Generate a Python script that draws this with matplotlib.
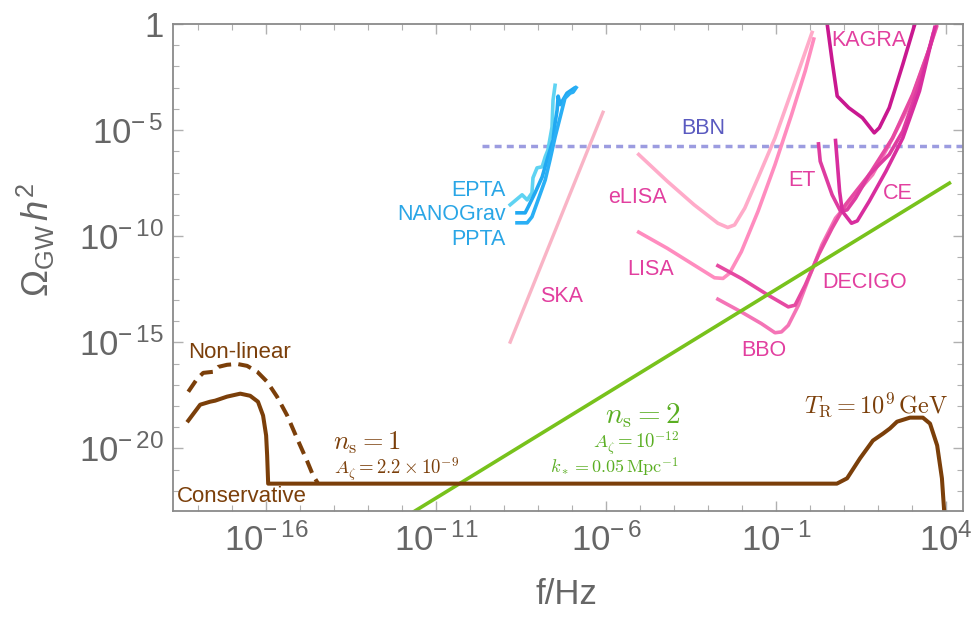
import numpy as np
import matplotlib
matplotlib.use('Agg')
import matplotlib.pyplot as plt
from matplotlib.ticker import FixedLocator, NullFormatter

plt.rcParams['font.family'] = ['Liberation Sans', 'DejaVu Sans']
plt.rcParams['mathtext.fontset'] = 'custom'
plt.rcParams['mathtext.rm'] = 'Liberation Sans'
plt.rcParams['mathtext.it'] = 'Liberation Sans:italic'

# all values are log10(f / Hz) and log10(Omega h^2)
cons_lf = [-18.29, -17.94, -17.65, -17.50, -17.15, -16.76, -16.47, -16.24, -16.09, -16.00, -15.97, -15.94,
           0.79, 1.09, 1.47, 1.85, 2.15, 2.35, 2.56, 2.94, 3.32, 3.53, 3.74, 3.88, 3.97, 4.05]
cons_lo = [-18.69, -17.94, -17.80, -17.75, -17.56, -17.42, -17.52, -17.80, -18.45, -19.39, -20.33, -21.66,
           -21.66, -21.41, -20.47, -19.63, -19.30, -19.06, -18.74, -18.55, -18.55, -18.83, -19.86, -21.41, -23.5]
cons_lf = cons_lf[:len(cons_lo)]

nonlin_lf = [-18.29, -18.03, -17.85, -17.56, -17.41, -17.15, -16.85, -16.56, -16.26, -15.97, -15.68,
             -15.38, -15.09, -14.79, -14.62, -14.47]
nonlin_lo = [-17.33, -16.72, -16.44, -16.39, -16.16, -16.06, -16.02, -16.11, -16.39, -16.86, -17.56,
             -18.45, -19.53, -20.61, -21.27, -21.66]

ns2_lf = [-12.0, 4.1]
ns2_lo = [-23.32, -7.5]

bbn_lf = [-9.65, 4.6]
bbn_lo = [-5.77, -5.77]

ska_lf = [-8.82, -6.09]
ska_lo = [-14.99, -4.16]

epta_lf = [-8.82, -8.47, -8.32, -8.18, -8.15, -8.03, -7.88, -7.79, -7.71, -7.59, -7.56, -7.50]
epta_lo = [-8.52, -8.05, -8.29, -7.96, -7.25, -6.78, -6.73, -6.26, -5.94, -4.86, -3.59, -2.89]

nano_lf = [-8.62, -8.38, -8.29, -8.09, -7.88, -7.71, -7.56, -7.50, -7.44, -7.41, -7.35, -7.15, -6.94]
nano_lo = [-8.90, -8.90, -8.62, -7.96, -7.21, -6.26, -5.47, -4.67, -4.06, -3.40, -3.80, -3.26, -3.03]

ppta_lf = [-8.62, -8.32, -8.18, -8.00, -7.79, -7.65, -7.50, -7.35, -7.21, -7.06, -6.97, -6.88]
ppta_lo = [-9.37, -9.37, -9.09, -8.29, -7.35, -6.41, -5.33, -4.39, -3.50, -3.26, -3.21, -3.00]

elisa_lf = [-5.04, -4.20, -3.41, -2.71, -2.42, -2.22, -1.92, -1.53, -1.03, -0.54, 0.06]
elisa_lo = [-6.15, -7.41, -8.52, -9.39, -9.59, -9.47, -8.68, -7.25, -5.37, -3.16, -0.40]

lisa_lf = [-5.04, -4.20, -3.41, -2.81, -2.56, -2.37, -2.02, -1.53, -1.03, -0.54, -0.14, 0.11]
lisa_lo = [-9.81, -10.57, -11.36, -11.96, -11.99, -11.75, -10.73, -8.83, -6.63, -4.26, -2.21, -0.71]

bbo_lf = [-2.71, -2.02, -1.43, -1.03, -0.84, -0.64, -0.34, -0.04, 0.35, 0.75, 1.24, 1.84, 2.33, 2.93, 3.42, 3.72]
bbo_lo = [-12.97, -13.57, -14.12, -14.55, -14.51, -14.20, -13.25, -11.99, -10.41, -9.15, -8.21, -7.10, -5.68,
          -3.79, -1.58, -0.16]

decigo_lf = [-2.71, -2.02, -1.23, -0.64, -0.44, -0.14, 0.25, 0.65, 1.04, 1.74, 2.43, 3.02, 3.52, 3.72]
decigo_lo = [-11.39, -11.99, -12.78, -13.33, -13.25, -12.30, -10.88, -9.62, -8.52, -7.10, -5.37, -3.32,
             -1.11, -0.08]

et_lf = [0.25, 0.30, 0.65, 0.90, 1.09, 1.34, 1.74, 2.33, 2.73, 3.22, 3.62]
et_lo = [-5.65, -6.47, -8.05, -8.83, -8.76, -8.21, -7.10, -6.15, -5.05, -2.84, -0.48]

ce_lf = [0.75, 0.80, 0.87, 0.95, 1.22, 1.39, 1.74, 2.23, 2.73, 3.22, 3.67]
ce_lo = [-5.49, -6.47, -7.89, -8.83, -9.39, -9.28, -8.36, -6.95, -5.37, -3.16, -0.16]

kagra_lf = [0.48, 0.65, 0.80, 1.14, 1.54, 1.89, 2.04, 2.33, 2.73, 3.14]
kagra_lo = [0.3, -1.74, -3.40, -3.95, -4.42, -5.13, -4.89, -3.95, -1.90, 0.3]

BROWN = '#7b3f0a'
GREEN = '#78c21c'
GREEN_TXT = '#5aae22'
PINK_TXT = '#e23f9f'
PTA_TXT = '#2aa6e6'
GREY = '#666666'


def p(lf, lo):
    return 10.0 ** np.asarray(lf), 10.0 ** np.asarray(lo)


def fx(px):
    return px / 974


def fy(py):
    return 1 - py / 621


fig = plt.figure(figsize=(9.74, 6.21), dpi=100)
ax = fig.add_axes([0.1776, 0.1771, 0.8111, 0.7843])
ax.set_xscale('log')
ax.set_yscale('log')

ax.plot(*p(bbn_lf, bbn_lo), color='#9c9ce0', lw=2.5, dashes=(2.0, 1.5))
ax.plot(*p(ska_lf, ska_lo), color='#f9b4c6', lw=2.4)
ax.plot(*p(epta_lf, epta_lo), color='#5fd3f2', lw=2.6)
ax.plot(*p(nano_lf, nano_lo), color='#21a9f2', lw=2.6)
ax.plot(*p(ppta_lf, ppta_lo), color='#2aaff5', lw=2.6)
ax.plot(*p(elisa_lf, elisa_lo), color='#ffabc9', lw=2.6)
ax.plot(*p(lisa_lf, lisa_lo), color='#ff8cbf', lw=2.6)
ax.plot(*p(bbo_lf, bbo_lo), color='#f474b6', lw=2.6)
ax.plot(*p(decigo_lf, decigo_lo), color='#e64aa2', lw=2.6)
ax.plot(*p(et_lf, et_lo), color='#de3ca0', lw=2.6)
ax.plot(*p(ce_lf, ce_lo), color='#d82e9e', lw=2.6)
ax.plot(*p(kagra_lf, kagra_lo), color='#c91890', lw=2.6)
ax.plot(*p(ns2_lf, ns2_lo), color=GREEN, lw=2.6)
ax.plot(*p(nonlin_lf, nonlin_lo), color=BROWN, lw=2.9, dashes=(3.3, 1.8))
ax.plot(*p(cons_lf, cons_lo), color=BROWN, lw=2.9)

ax.set_xlim(10 ** -18.74, 10 ** 4.5)
ax.set_ylim(10 ** -22.95, 1)

xmaj = [-16, -11, -6, -1, 4]
ymaj = [0, -5, -10, -15, -20]
ax.xaxis.set_major_locator(FixedLocator([10.0 ** e for e in xmaj]))
ax.xaxis.set_minor_locator(FixedLocator([10.0 ** e for e in range(-18, 5)]))
ax.yaxis.set_major_locator(FixedLocator([10.0 ** e for e in ymaj]))
ax.yaxis.set_minor_locator(FixedLocator([10.0 ** e for e in range(-22, 1)]))
ax.set_xticklabels([r'$10^{-\,%d}$' % -e if e < 0 else r'$10^{%d}$' % e for e in xmaj])
ax.set_yticklabels(['1' if e == 0 else r'$10^{-\,%d}$' % -e for e in ymaj])
ax.xaxis.set_minor_formatter(NullFormatter())
ax.yaxis.set_minor_formatter(NullFormatter())
ax.tick_params(which='both', direction='in', top=True, right=True, color='#b0b0b0', labelcolor=GREY,
               labelsize=25)
ax.tick_params(which='major', length=7, width=1)
ax.tick_params(which='minor', length=4, width=0.8)
ax.tick_params(axis='x', pad=9)
ax.tick_params(axis='y', pad=7)
for s in ax.spines.values():
    s.set_color('#8a8a8a')
    s.set_linewidth(1.3)

fig.text(fx(566), fy(595), 'f/Hz', fontsize=25, color=GREY, ha='center', va='center')
fig.text(fx(36), fy(240), r'$\Omega_{\rm GW}\,h^2$', fontsize=26, color=GREY, ha='center', va='center',
         rotation=90)

t = dict(fontsize=15.5, ha='center', va='center')
fig.text(fx(703), fy(128), 'BBN', color='#5a5ac0', **t)
fig.text(fx(869), fy(41), 'KAGRA', color=PINK_TXT, **t)
fig.text(fx(802), fy(180), 'ET', color=PINK_TXT, **t)
fig.text(fx(898), fy(193), 'CE', color=PINK_TXT, **t)
fig.text(fx(637), fy(197), 'eLISA', color=PINK_TXT, **t)
fig.text(fx(651), fy(270), 'LISA', color=PINK_TXT, **t)
fig.text(fx(562), fy(297), 'SKA', color=PINK_TXT, **t)
fig.text(fx(865), fy(282), 'DECIGO', color=PINK_TXT, **t)
fig.text(fx(764), fy(351), 'BBO', color=PINK_TXT, **t)
t = dict(fontsize=15.5, ha='right', va='center')
fig.text(fx(506), fy(190), 'EPTA', color=PTA_TXT, **t)
fig.text(fx(506), fy(215), 'NANOGrav', color=PTA_TXT, **t)
fig.text(fx(506), fy(240), 'PPTA', color=PTA_TXT, **t)
fig.text(fx(240), fy(352), 'Non-linear', color=BROWN, fontsize=16, ha='center', va='center')
fig.text(fx(177), fy(497), 'Conservative', color=BROWN, fontsize=16, ha='left', va='center')

fig.text(fx(333), fy(443), r'$n_{\rm s} = 1$', color=BROWN, ha='left', va='center',
         fontsize=19, math_fontfamily='cm')
fig.text(fx(334), fy(469), r'$A_\zeta = 2.2 \times 10^{-9}$', color=BROWN, ha='left', va='center',
         fontsize=13.5, math_fontfamily='cm')
fig.text(fx(680), fy(416), r'$n_{\rm s} = 2$', color=GREEN_TXT, ha='right', va='center',
         fontsize=21, math_fontfamily='cm')
fig.text(fx(679), fy(443), r'$A_\zeta = 10^{-12}$', color=GREEN_TXT, ha='right', va='center',
         fontsize=13.5, math_fontfamily='cm')
fig.text(fx(679), fy(467), r'$k_* = 0.05\,{\rm Mpc}^{-1}$', color=GREEN_TXT, ha='right', va='center',
         fontsize=13, math_fontfamily='cm')
fig.text(fx(948), fy(405), r'$T_{\rm R} = 10^9\,{\rm GeV}$', color=BROWN, ha='right', va='center',
         fontsize=17.5, math_fontfamily='cm')

fig.savefig('out.png', dpi=100)
